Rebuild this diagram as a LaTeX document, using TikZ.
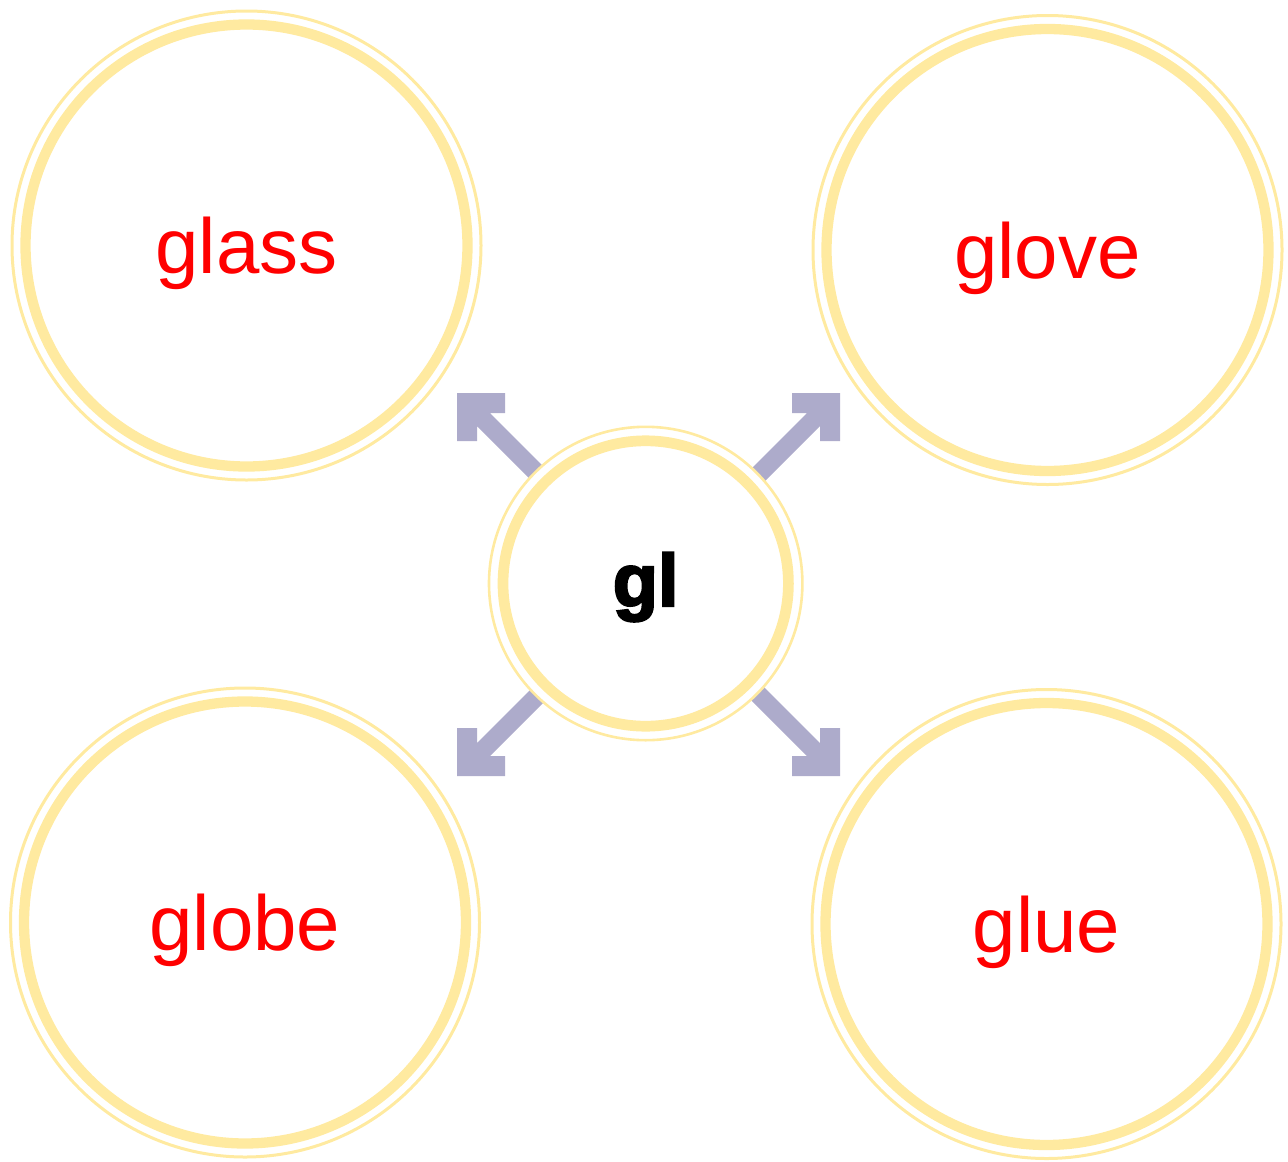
\documentclass[tikz,border=0pt]{standalone}
\usepackage{fontspec}
\setmainfont{Liberation Sans}
\newfontfamily\glbold{Liberation Sans Bold}[FakeBold=3]
\definecolor{ring}{RGB}{255,234,160}
\definecolor{arr}{RGB}{173,171,203}
\definecolor{wordred}{RGB}{255,0,0}
\tikzset{
  bigc/.style={circle, draw=ring, line width=10.3pt, minimum size=442pt, inner sep=0pt,
    fill=white, text=wordred, font=\fontsize{78}{90}\selectfont, text height=56pt, text depth=0pt},
  bigring/.style={draw=ring, line width=3pt},
  centerc/.style={circle, draw=ring, line width=10.7pt, minimum size=285.4pt, inner sep=0pt,
    fill=white, text=black, font=\glbold\fontsize{74}{86}\selectfont, text height=45pt, text depth=0pt},
  centerring/.style={draw=ring, line width=2.6pt, fill=white},
  blockarrow/.style={fill=arr}
}
\begin{document}
\begin{tikzpicture}[x=1pt,y=-1pt]
\useasboundingbox (0,0) rectangle (1288,1162);
% tips of the block arrows
\coordinate (tUL) at (457,393);
\coordinate (tUR) at (840,393);
\coordinate (tLL) at (457,776);
\coordinate (tLR) at (840,776);
\foreach \t/\sx/\sy in {tUL/1/1, tUR/-1/1, tLL/1/-1, tLR/-1/-1}{
  \begin{scope}[shift={(\t)}, xscale=\sx, yscale=\sy]
    \path[blockarrow] (0,0) -- (48,0) -- (48,20) -- (33,20) -- (183,170) -- (170,183)
      -- (20,33) -- (20,48) -- (0,48) -- cycle;
  \end{scope}
}
% center circle
\path[centerring] (645.7,583.5) circle[radius=156.7];
\node[centerc] (gl) at (645.7,583.5) {gl};
% outer circles
\node[bigc] (glass) at (246.5,245.5) {glass};
\node[bigc] (glove) at (1047.5,250) {glove};
\node[bigc] (globe) at (245,922.5) {globe};
\node[bigc] (glue) at (1046.5,924) {glue};
\foreach \n in {glass,glove,globe,glue}{
  \draw[bigring] (\n.center) circle[radius=234.5];
}
\end{tikzpicture}
\end{document}
